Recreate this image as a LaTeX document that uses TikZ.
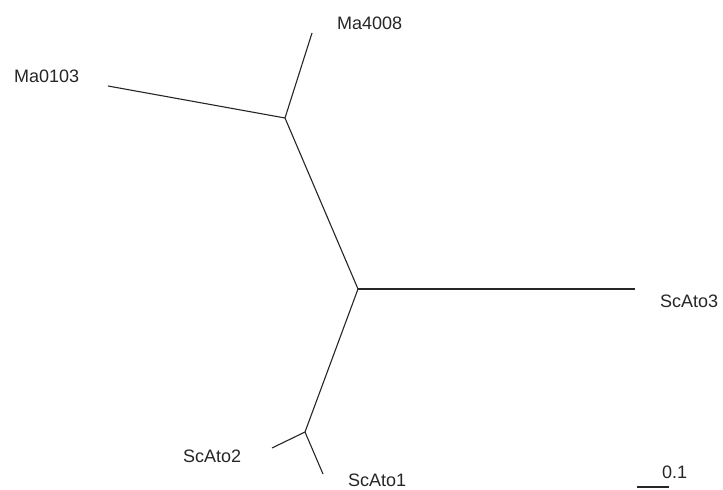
\documentclass[tikz,border=0pt]{standalone}
\usepackage{fontspec}
\setmainfont{Liberation Sans}
\begin{document}
\begin{tikzpicture}[x=1bp,y=-1bp,
  branch/.style={line width=1.1bp,draw=black!85},
  leaflabel/.style={inner sep=0pt,anchor=base west,font=\fontsize{18bp}{20bp}\selectfont,text=black!85}]
\useasboundingbox[fill=white] (0,0) rectangle (723,490);
% internal nodes
\coordinate (C) at (358,289);
\coordinate (A) at (285,118);
\coordinate (B) at (305,432);
% leaf ends
\coordinate (l0103) at (108,86);
\coordinate (l4008) at (312,33);
\coordinate (lS3) at (635,289);
\coordinate (lS2) at (272,448);
\coordinate (lS1) at (323,474);
% scale bar
\coordinate (s0) at (637,487);
\coordinate (s1) at (669,487);
% branches
\draw[branch] (C) -- (A);
\draw[branch] (C) -- (B);
\draw[branch] (C) -- (lS3);
\draw[branch] (A) -- (l0103);
\draw[branch] (A) -- (l4008);
\draw[branch] (B) -- (lS2);
\draw[branch] (B) -- (lS1);
\draw[branch] (s0) -- (s1);
% labels
\node[leaflabel] (t0103) at (14,83) {Ma0103};
\node[leaflabel] (t4008) at (337,30) {Ma4008};
\node[leaflabel] (tS3) at (660,307) {ScAto3};
\node[leaflabel] (tS2) at (183,462) {ScAto2};
\node[leaflabel] (tS1) at (348,486.5) {ScAto1};
\node[leaflabel] (tscale) at (662,478) {0.1};
\end{tikzpicture}
\end{document}
